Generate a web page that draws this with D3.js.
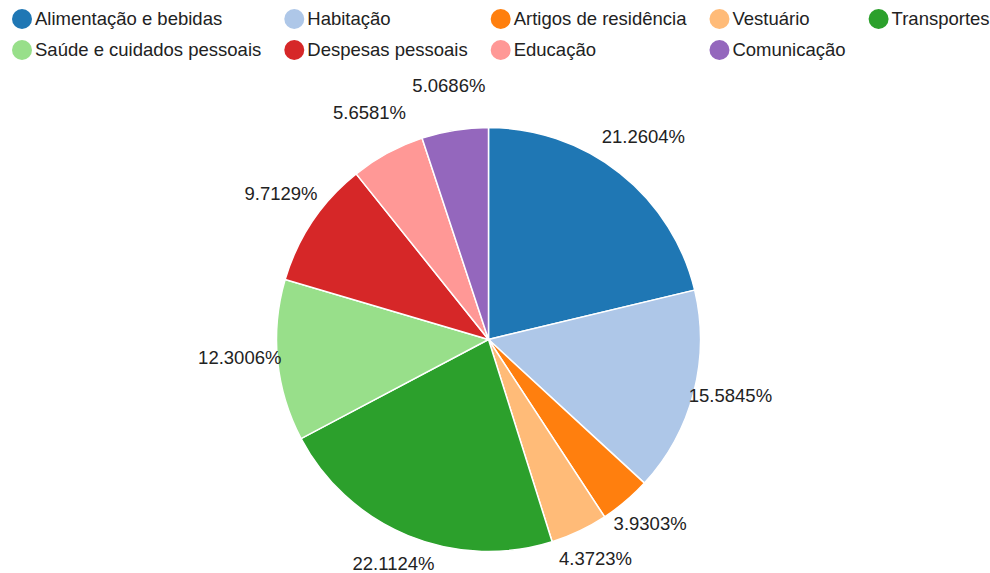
<!DOCTYPE html>
<html><head><meta charset="utf-8">
<script src="https://cdn.jsdelivr.net/npm/d3@7"></script>
<style>body{margin:0;background:#fff}svg{display:block;font-family:"Liberation Sans",Arial,sans-serif}</style>
</head><body>
<svg id="c" width="990" height="573"></svg>
<script>
const categories = ["Alimentação e bebidas","Habitação","Artigos de residência","Vestuário","Transportes","Saúde e cuidados pessoais","Despesas pessoais","Educação","Comunicação"];
const values = [21.2604,15.5845,3.9303,4.3723,22.1124,12.3006,9.7129,5.6581,5.0686];
const colors = ["#1f77b4","#aec7e8","#ff7f0e","#ffbb78","#2ca02c","#98df8a","#d62728","#ff9896","#9467bd"];

const svg = d3.select("#c");
const cx = 488.5, cy = 339.5, R = 212, LR = 250;
const FS = 18.5;

const color = d3.scaleOrdinal().domain(categories).range(colors);
const data = categories.map((c,i)=>({cat:c, v:values[i]}));
const pie = d3.pie().value(d=>d.v).sort(null);
const arcs = pie(data);
const arc = d3.arc().innerRadius(0).outerRadius(R);
const larc = d3.arc().innerRadius(LR).outerRadius(LR);

const g = svg.append("g").attr("transform",`translate(${cx},${cy})`);
g.selectAll("path").data(arcs).enter().append("path")
  .attr("d",arc).attr("fill",d=>color(d.data.cat))
  .attr("stroke","#fff").attr("stroke-width",1.5);
g.selectAll("text").data(arcs).enter().append("text")
  .attr("x",d=>larc.centroid(d)[0])
  .attr("y",d=>larc.centroid(d)[1]-7)
  .attr("dy","0.35em").attr("text-anchor","middle")
  .attr("font-size",FS).attr("fill","#222")
  .text(d=>d.data.v+"%");

// legend grid
const ncol = 5, rowY = [19, 50], r = 10, gap = 3, colGap = 23, x0 = 12;
const lg = svg.append("g");
const items = lg.selectAll("g").data(data).enter().append("g");
items.append("circle").attr("r",r).attr("cx",r).attr("cy",0).attr("fill",d=>color(d.cat));
items.append("text").attr("x",2*r+gap).attr("dy","0.35em").attr("font-size",FS).attr("fill","#222").text(d=>d.cat);
const widths = [];
items.each(function(d,i){ widths[i] = 2*r+gap+this.querySelector("text").getComputedTextLength(); });
const colX = []; let acc = x0;
for(let c=0;c<ncol;c++){
  colX.push(acc);
  let m = 0;
  for(let i=c;i<data.length;i+=ncol) m = Math.max(m,widths[i]);
  acc += m + colGap;
}
items.attr("transform",(d,i)=>`translate(${colX[i%ncol]},${rowY[Math.floor(i/ncol)]})`);
</script>
</body></html>
